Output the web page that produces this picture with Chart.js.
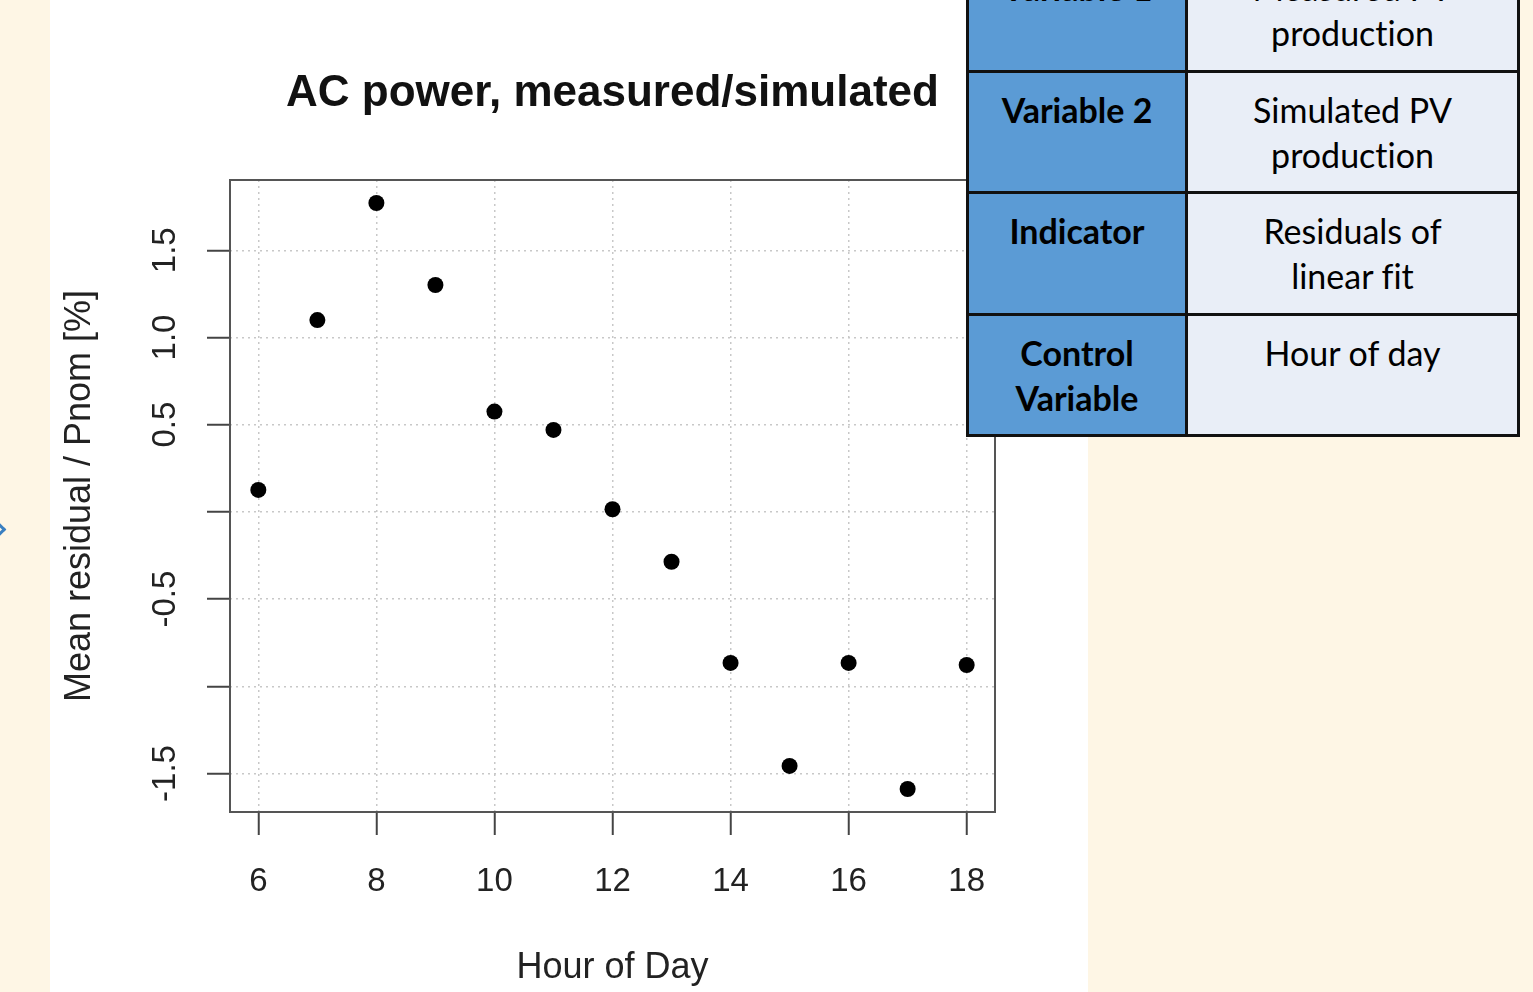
<!DOCTYPE html>
<html>
<head>
<meta charset="utf-8">
<title>AC power, measured/simulated</title>
<script src="https://cdn.jsdelivr.net/npm/chart.js@4.4.0/dist/chart.umd.min.js"></script>
<style>
    html, body { margin: 0; padding: 0; width: 1533px; height: 992px; overflow: hidden; background: #fef6e5; }
    #panel { position: absolute; left: 50px; top: 0; width: 1038px; height: 992px; background: #ffffff; }
    #chart { position: absolute; left: 50px; top: 0; }
    #chevron { position: absolute; left: -7px; top: 524px; width: 8px; height: 8px;
               border-top: 3px solid #3a7fc1; border-right: 3px solid #3a7fc1; transform: rotate(45deg); }
    #info { position: absolute; left: 966px; top: -52px; width: 554px; height: 489px; background: #111; }
    #info div { position: absolute; box-sizing: border-box; text-align: center;
                font-family: Lato, "Open Sans", sans-serif; font-size: 34px; line-height: 45px;
                font-variant-ligatures: none; padding-top: 14px; color: #000; }
    #info .key { background: #5b9bd5; font-weight: bold; }
    #info .val { background: #e9eef7; }
</style>
</head>
<body>
<div id="panel"></div>
<div id="chevron"></div>
<canvas id="chart" width="1038" height="992"></canvas>
<div id="info"></div>
<script>
// Residual data
const hours = [6, 7, 8, 9, 10, 11, 12, 13, 14, 15, 16, 17, 18];
const residuals = [0.126, 1.10, 1.771, 1.301, 0.575, 0.470, 0.015, -0.286, -0.866, -1.457, -0.866, -1.589, -0.878];

// Axis ticks
const xTicks = [6, 8, 10, 12, 14, 16, 18];
const yTicks = [-1.5, -1, -0.5, 0, 0.5, 1, 1.5];
const yTickLabels = ['-1.5', '', '-0.5', '', '0.5', '1.0', '1.5'];

// Side table
const tableKeys = ['Variable 1', 'Variable 2', 'Indicator', 'Control Variable'];
const tableValues = ['Measured PV production', 'Simulated PV production', 'Residuals of linear fit', 'Hour of day'];
const keyLines = [['Variable 1'], ['Variable 2'], ['Indicator'], ['Control', 'Variable']];
const valueLines = [['Measured PV', 'production'], ['Simulated PV', 'production'], ['Residuals of', 'linear fit'], ['Hour of day']];

const FONT = '"Liberation Sans", Arial, Helvetica, sans-serif';

// build the table
const info = document.getElementById('info');
tableKeys.forEach(function(k, i) {
    const top = 3 + i * 121.5;
    const key = document.createElement('div');
    key.className = 'key';
    key.style.cssText = 'left:3px;top:' + top + 'px;width:216px;height:118.5px;';
    key.innerHTML = keyLines[i].join('<br>');
    info.appendChild(key);
    const val = document.createElement('div');
    val.className = 'val';
    val.style.cssText = 'left:222px;top:' + top + 'px;width:329px;height:118.5px;';
    val.innerHTML = valueLines[i].join('<br>');
    info.appendChild(val);
});

// box around the plot region + rotated y labels (R style)
const frame = {
    id: 'frame',
    afterDraw: function(chart) {
        const ctx = chart.ctx;
        const a = chart.chartArea;
        const y = chart.scales.y;
        ctx.save();
        ctx.strokeStyle = '#555';
        ctx.lineWidth = 2;
        ctx.setLineDash([]);
        ctx.strokeRect(a.left, a.top, a.right - a.left, a.bottom - a.top);
        ctx.fillStyle = '#222';
        ctx.font = '33px ' + FONT;
        ctx.textAlign = 'center';
        ctx.textBaseline = 'middle';
        yTicks.forEach(function(v, i) {
            if (!yTickLabels[i]) return;
            ctx.save();
            ctx.translate(116, y.getPixelForValue(v));
            ctx.rotate(-Math.PI / 2);
            ctx.fillText(yTickLabels[i], 0, 0);
            ctx.restore();
        });
        ctx.restore();
    }
};

const ctx = document.getElementById('chart').getContext('2d');
const residualChart = new Chart(ctx, {
    type: 'scatter',
    data: {
        datasets: [{
            label: 'Mean residual',
            data: hours.map(function(h, i) { return { x: h, y: residuals[i] }; }),
            pointRadius: 8,
            pointBackgroundColor: '#000',
            pointBorderWidth: 0
        }]
    },
    options: {
        responsive: false,
        animation: false,
        layout: { padding: { left: 0, right: 93, top: 0, bottom: 0 } },
        plugins: {
            legend: { display: false },
            tooltip: { enabled: false },
            title: {
                display: true,
                text: 'AC power, measured/simulated',
                fullSize: false,
                color: '#111',
                font: { family: FONT, size: 44, weight: 'bold', lineHeight: 1.2 },
                padding: { top: 67.6, bottom: 59.6 }
            }
        },
        scales: {
            x: {
                type: 'linear',
                min: 5.52,
                max: 18.48,
                afterBuildTicks: function(s) { s.ticks = xTicks.map(function(v) { return { value: v }; }); },
                afterFit: function(s) { s.height = 180; },
                grid: { color: '#c8c8c8', lineWidth: 1.5, tickLength: 23, tickColor: '#444', tickWidth: 2, tickBorderDash: [] },
                border: { display: false, dash: [2, 4] },
                ticks: { color: '#222', font: { family: FONT, size: 33 }, padding: 27, maxRotation: 0, autoSkip: false },
                title: {
                    display: true,
                    text: 'Hour of Day',
                    color: '#222',
                    font: { family: FONT, size: 36, lineHeight: 1.2 },
                    padding: { top: 0, bottom: 2 }
                }
            },
            y: {
                min: -1.721,
                max: 1.903,
                afterBuildTicks: function(s) { s.ticks = yTicks.map(function(v) { return { value: v }; }); },
                afterFit: function(s) { s.width = 180; },
                grid: { color: '#c8c8c8', lineWidth: 1.5, tickLength: 23, tickColor: '#444', tickWidth: 2, tickBorderDash: [] },
                border: { display: false, dash: [2, 4] },
                ticks: { callback: function() { return ''; } },
                title: {
                    display: true,
                    text: 'Mean residual / Pnom [%]',
                    color: '#222',
                    font: { family: FONT, size: 36, lineHeight: 1.2 },
                    padding: { top: 8, bottom: 0 }
                }
            }
        }
    },
    plugins: [frame]
});
</script>
</body>
</html>
